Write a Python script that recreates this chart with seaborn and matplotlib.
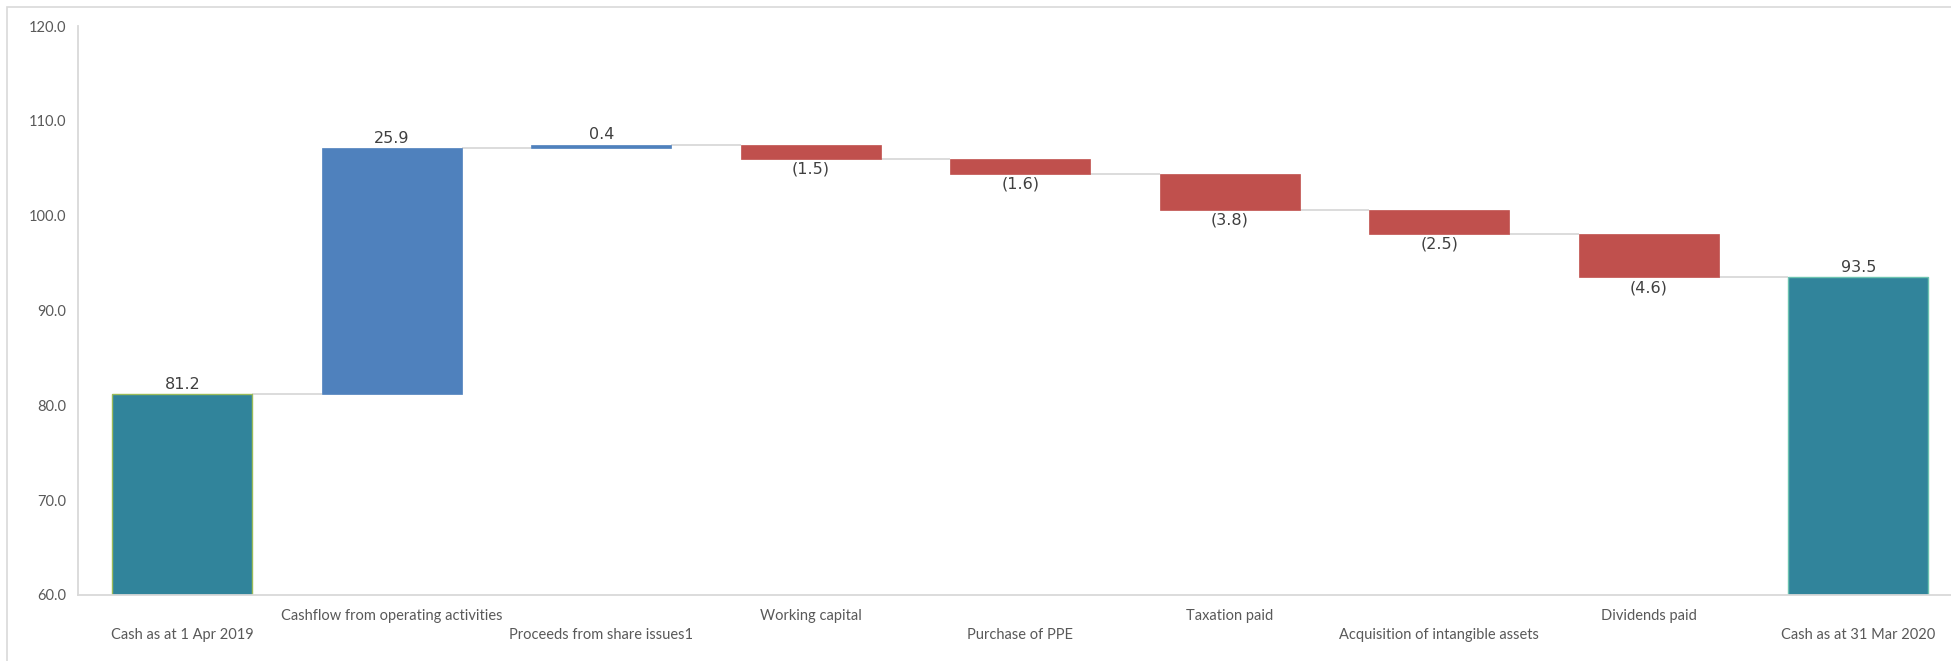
import matplotlib
matplotlib.use("Agg")
import matplotlib.pyplot as plt
from matplotlib.patches import Rectangle
import seaborn as sns
import numpy as np

categories = [
    "Cash as at 1 Apr 2019",
    "Cashflow from operating activities",
    "Proceeds from share issues1",
    "Working capital",
    "Purchase of PPE",
    "Taxation paid",
    "Acquisition of intangible assets",
    "Dividends paid",
    "Cash as at 31 Mar 2020",
]
values = [81.2, 25.9, 0.4, -1.5, -1.6, -3.8, -2.5, -4.6, 93.5]
kinds = ["total", "delta", "delta", "delta", "delta", "delta", "delta", "delta", "total"]
y_ticks = [60, 70, 80, 90, 100, 110, 120]

TEAL = "#31849B"
BLUE = "#4F81BD"
RED = "#C0504D"

# waterfall geometry derived from the values
bottoms, heights, levels = [], [], []
level = 0.0
for v, k in zip(values, kinds):
    if k == "total":
        bottoms.append(0.0)
        heights.append(v)
        level = v
    else:
        bottoms.append(level if v >= 0 else level + v)
        heights.append(abs(v))
        level = level + v
    levels.append(level)

colors = []
for v, k in zip(values, kinds):
    colors.append(TEAL if k == "total" else (BLUE if v >= 0 else RED))

sns.set_style("white")
plt.rcParams["font.family"] = ["Lato", "DejaVu Sans"]

W, H = 1951, 661
fig = plt.figure(figsize=(W / 100, H / 100), dpi=100)
ax = fig.add_axes([77.5 / W, 66 / H, 1885.5 / W, 569 / H])

bar_w = 0.67
sns.barplot(x=categories, y=heights, bottom=bottoms, order=categories,
            width=bar_w, color=TEAL, ax=ax, linewidth=0)

edge_cols = {0: "#9BBB59", 8: "#6CC3B0"}
for i, p in enumerate(ax.patches):
    p.set_facecolor(colors[i])
    if i in edge_cols:
        p.set_edgecolor(edge_cols[i])
        p.set_linewidth(1.0)
    else:
        p.set_edgecolor(colors[i])
        p.set_linewidth(0.5)

# connectors
for i in range(len(values) - 1):
    ax.plot([i + bar_w / 2, i + 1 - bar_w / 2], [levels[i], levels[i]],
            color="#D9D9D9", lw=1.3, zorder=0.5, solid_capstyle="butt")

# data labels
for i, (v, k) in enumerate(zip(values, kinds)):
    top = bottoms[i] + heights[i]
    if k == "total" or v >= 0:
        ax.annotate(f"{abs(v):.1f}", (i, top), xytext=(0, 1.5), textcoords="offset points",
                    ha="center", va="bottom", fontsize=11.5, color="#404040",
                    family=["DejaVu Sans"])
    else:
        ax.annotate(f"({abs(v):.1f})", (i, bottoms[i]), xytext=(0, -2), textcoords="offset points",
                    ha="center", va="top", fontsize=11.5, color="#404040",
                    family=["DejaVu Sans"])

ax.set_ylim(60, 120)
ax.set_xlim(-0.5, len(categories) - 0.5)
ax.set_yticks(y_ticks)
ax.set_yticklabels([f"{t:.1f}" for t in y_ticks])
ax.set_xlabel("")
ax.set_ylabel("")
ax.tick_params(axis="both", length=0, labelsize=10.5, labelcolor="#595959")
ax.tick_params(axis="y", pad=8)

for s in ["top", "right"]:
    ax.spines[s].set_visible(False)
for s in ["left", "bottom"]:
    ax.spines[s].set_color("#D9D9D9")
    ax.spines[s].set_linewidth(1.3)

ticks = ax.xaxis.get_major_ticks()
for i, t in enumerate(ticks):
    t.set_pad(10 if i % 2 == 1 else 24)

# outer chart border (cropped on right and bottom)
fig.add_artist(Rectangle((6.5 / W, -0.1), 1.2, (H - 7) / H + 0.1,
                         transform=fig.transFigure, fill=False,
                         edgecolor="#D9D9D9", lw=1.2))

fig.savefig("out.png", dpi=100)
